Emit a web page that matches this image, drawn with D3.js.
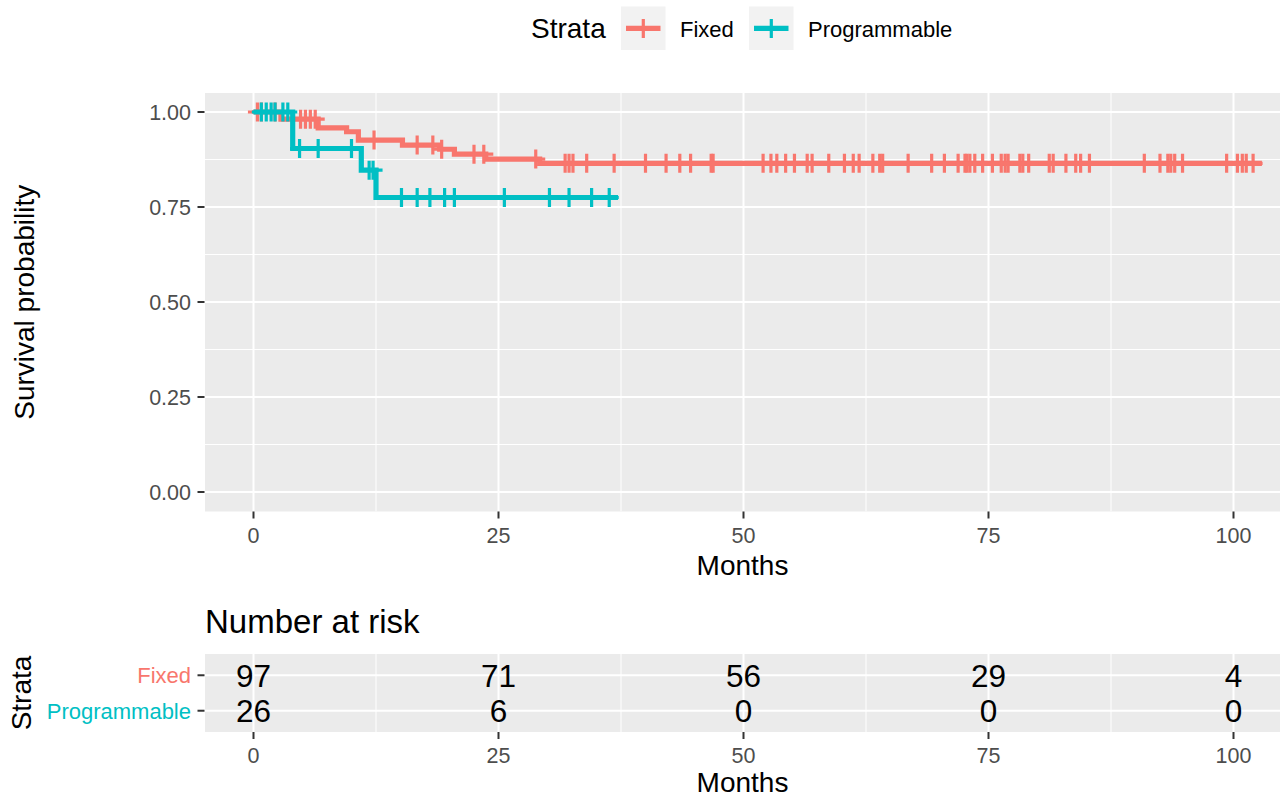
<!DOCTYPE html>
<html>
<head>
<meta charset="utf-8">
<script src="https://cdn.jsdelivr.net/npm/d3@7"></script>
<style>
  body { margin: 0; background: #fff; }
  svg { display: block; font-family: 'Liberation Sans', Arial, sans-serif; }
</style>
</head>
<body>
<div id="chart"></div>
<script>
// Kaplan-Meier steps (months, survival)
const fixedTimes = [0, 2.8, 6.6, 9.5, 10.7, 15.2, 19.0, 20.5, 23.7, 29.2];
const fixedSurv = [1.0, 0.981, 0.958, 0.948, 0.926, 0.913, 0.902, 0.889, 0.876, 0.865];
const fixedEnd = 102.9;
const fixedCensor = [0.4, 0.8, 2.2, 4.8, 5.3, 5.8, 6.3, 12.3, 16.7, 18.3, 19.2, 22.5, 23.5,
  28.8, 31.8, 32.2, 32.6, 34.0, 36.8, 40.0, 42.1, 43.5, 44.6, 46.7, 46.9, 52.0, 52.8, 53.4,
  54.3, 55.2, 56.5, 57.0, 58.7, 60.3, 61.2, 61.8, 63.2, 63.9, 64.2, 66.8, 69.2, 70.5, 71.9,
  72.6, 72.8, 73.1, 73.6, 74.4, 75.4, 76.3, 76.7, 77.0, 78.2, 78.5, 79.1, 81.2, 81.6, 82.9,
  83.9, 84.4, 85.3, 90.9, 92.5, 93.3, 93.6, 94.0, 94.8, 99.3, 100.4, 100.9, 101.3, 102.0];

const progTimes = [0, 4.0, 11.0, 12.5];
const progSurv = [1.0, 0.904, 0.847, 0.775];
const progEnd = 37.2;
const progCensor = [0.8, 1.3, 1.8, 2.2, 3.0, 3.5, 4.7, 6.6, 10.0, 11.8, 12.2, 15.1, 16.7,
  18.0, 19.5, 20.5, 25.6, 30.2, 32.2, 34.5, 36.3];

const strata = ['Fixed', 'Programmable'];
const colors = ['#F8766D', '#00BFC4'];

// number at risk table
const riskTimes = [0, 25, 50, 75, 100];
const riskFixed = [97, 71, 56, 29, 4];
const riskProg = [26, 6, 0, 0, 0];

const xTicks = [0, 25, 50, 75, 100];
const xMinor = [12.5, 37.5, 62.5, 87.5];
const yTicks = [0, 0.25, 0.5, 0.75, 1];
const yMinor = [0.125, 0.375, 0.625, 0.875];

const W = 1280, H = 799;
const panel = { left: 205, right: 1280, top: 93, bottom: 511.5 };
const riskPanel = { left: 205, right: 1280, top: 654, bottom: 732 };
const bg = '#EBEBEB';
const tickColor = '#4D4D4D';
const lineW = 5.2;
const markW = 3.2;

const svg = d3.select('#chart').append('svg').attr('width', W).attr('height', H);

const x = d3.scaleLinear().domain([0, 100]).range([253.5, 1233.5]);
const y = d3.scaleLinear().domain([0, 1]).range([492, 112]);
const yRisk = d3.scaleLinear().domain([0.4, 2.6]).range([riskPanel.bottom, riskPanel.top]);

// main panel
svg.append('defs').append('clipPath').attr('id', 'clip')
  .append('rect')
  .attr('x', panel.left).attr('y', panel.top)
  .attr('width', panel.right - panel.left).attr('height', panel.bottom - panel.top);

svg.append('rect')
  .attr('x', panel.left).attr('y', panel.top)
  .attr('width', panel.right - panel.left).attr('height', panel.bottom - panel.top)
  .attr('fill', bg);

const grid = svg.append('g').attr('clip-path', 'url(#clip)');
grid.selectAll('.hmin').data(yMinor).join('line')
  .attr('x1', panel.left).attr('x2', panel.right)
  .attr('y1', (d) => y(d)).attr('y2', (d) => y(d))
  .attr('stroke', '#fff').attr('stroke-width', 1);
grid.selectAll('.vmin').data(xMinor).join('line')
  .attr('class', 'vmin')
  .attr('y1', panel.top).attr('y2', panel.bottom)
  .attr('x1', (d) => x(d)).attr('x2', (d) => x(d))
  .attr('stroke', '#fff').attr('stroke-width', 1);
grid.selectAll('.hmaj').data(yTicks).join('line')
  .attr('class', 'hmaj')
  .attr('x1', panel.left).attr('x2', panel.right)
  .attr('y1', (d) => y(d)).attr('y2', (d) => y(d))
  .attr('stroke', '#fff').attr('stroke-width', 2);
grid.selectAll('.vmaj').data(xTicks).join('line')
  .attr('class', 'vmaj')
  .attr('y1', panel.top).attr('y2', panel.bottom)
  .attr('x1', (d) => x(d)).attr('x2', (d) => x(d))
  .attr('stroke', '#fff').attr('stroke-width', 2);

// survival curves
const curves = [
  { times: fixedTimes, surv: fixedSurv, end: fixedEnd, censor: fixedCensor },
  { times: progTimes, surv: progSurv, end: progEnd, censor: progCensor }
];

const stepLine = d3.line()
  .x((d) => x(d[0]))
  .y((d) => y(d[1]))
  .curve(d3.curveStepAfter);

const survAt = (c, t) => c.surv[d3.bisectRight(c.times, t) - 1];

const curveG = svg.append('g').attr('clip-path', 'url(#clip)');
curves.forEach((c, i) => {
  const pts = c.times.map((t, j) => [t, c.surv[j]]);
  pts.push([c.end, c.surv[c.surv.length - 1]]);
  curveG.append('path')
    .attr('d', stepLine(pts))
    .attr('fill', 'none')
    .attr('stroke', colors[i])
    .attr('stroke-width', lineW);

  const marks = curveG.append('g').selectAll('g')
    .data(c.censor)
    .join('g')
    .attr('transform', (t) => `translate(${x(t)},${y(survAt(c, t))})`);
  marks.append('line')
    .attr('x1', 0).attr('x2', 0).attr('y1', -9.5).attr('y2', 9.5)
    .attr('stroke', colors[i]).attr('stroke-width', markW);
  marks.append('line')
    .attr('x1', -9.5).attr('x2', 9.5).attr('y1', 0).attr('y2', 0)
    .attr('stroke', colors[i]).attr('stroke-width', markW);
});

// main axes
const yAxisG = svg.append('g');
yAxisG.selectAll('line').data(yTicks).join('line')
  .attr('x1', 197.5).attr('x2', 204.5)
  .attr('y1', (d) => y(d)).attr('y2', (d) => y(d))
  .attr('stroke', '#333').attr('stroke-width', 2);
yAxisG.selectAll('text').data(yTicks).join('text')
  .attr('x', 191).attr('y', (d) => y(d) + 7.5)
  .attr('text-anchor', 'end')
  .attr('font-size', 21.5).attr('fill', tickColor)
  .text((d) => d3.format('.2f')(d));

const xAxisG = svg.append('g');
xAxisG.selectAll('line').data(xTicks).join('line')
  .attr('x1', (d) => x(d)).attr('x2', (d) => x(d))
  .attr('y1', panel.bottom).attr('y2', panel.bottom + 7)
  .attr('stroke', '#333').attr('stroke-width', 2);
xAxisG.selectAll('text').data(xTicks).join('text')
  .attr('x', (d) => x(d)).attr('y', 542.5)
  .attr('text-anchor', 'middle')
  .attr('font-size', 21.5).attr('fill', tickColor)
  .text((d) => d);

svg.append('text')
  .attr('x', (panel.left + panel.right) / 2).attr('y', 575)
  .attr('text-anchor', 'middle').attr('font-size', 28)
  .text('Months');

svg.append('text')
  .attr('transform', `translate(34,${(panel.top + panel.bottom) / 2}) rotate(-90)`)
  .attr('text-anchor', 'middle').attr('font-size', 28)
  .text('Survival probability');

// legend
const legend = svg.append('g');
legend.append('text')
  .attr('x', 531).attr('y', 38)
  .attr('font-size', 28)
  .text('Strata');
const keyX = [621, 749];
const labelX = [680, 808];
strata.forEach((s, i) => {
  legend.append('rect')
    .attr('x', keyX[i]).attr('y', 6.5).attr('width', 44.5).attr('height', 43.5)
    .attr('fill', '#F2F2F2');
  legend.append('line')
    .attr('x1', keyX[i] + 5).attr('x2', keyX[i] + 39.5)
    .attr('y1', 28.3).attr('y2', 28.3)
    .attr('stroke', colors[i]).attr('stroke-width', lineW);
  legend.append('line')
    .attr('x1', keyX[i] + 22.3).attr('x2', keyX[i] + 22.3)
    .attr('y1', 19).attr('y2', 38)
    .attr('stroke', colors[i]).attr('stroke-width', markW);
  legend.append('text')
    .attr('x', labelX[i]).attr('y', 36.5)
    .attr('font-size', 22)
    .text(s);
});

// number at risk table
svg.append('text')
  .attr('x', 205).attr('y', 633)
  .attr('font-size', 33)
  .text('Number at risk');

svg.append('rect')
  .attr('x', riskPanel.left).attr('y', riskPanel.top)
  .attr('width', riskPanel.right - riskPanel.left)
  .attr('height', riskPanel.bottom - riskPanel.top)
  .attr('fill', bg);

const riskRows = [2, 1];
const riskGrid = svg.append('g');
riskGrid.selectAll('.vmin').data(xMinor).join('line')
  .attr('class', 'vmin')
  .attr('y1', riskPanel.top).attr('y2', riskPanel.bottom)
  .attr('x1', (d) => x(d)).attr('x2', (d) => x(d))
  .attr('stroke', '#fff').attr('stroke-width', 1);
riskGrid.selectAll('.hmaj').data(riskRows).join('line')
  .attr('class', 'hmaj')
  .attr('x1', riskPanel.left).attr('x2', riskPanel.right)
  .attr('y1', (d) => yRisk(d)).attr('y2', (d) => yRisk(d))
  .attr('stroke', '#fff').attr('stroke-width', 2);
riskGrid.selectAll('.vmaj').data(xTicks).join('line')
  .attr('class', 'vmaj')
  .attr('y1', riskPanel.top).attr('y2', riskPanel.bottom)
  .attr('x1', (d) => x(d)).attr('x2', (d) => x(d))
  .attr('stroke', '#fff').attr('stroke-width', 2);

const riskSeries = [riskFixed, riskProg];
riskSeries.forEach((vals, i) => {
  svg.append('g').selectAll('text').data(vals).join('text')
    .attr('x', (d, j) => x(riskTimes[j]))
    .attr('y', yRisk(riskRows[i]) + 11.5)
    .attr('text-anchor', 'middle')
    .attr('font-size', 31.5)
    .text((d) => d);

  svg.append('line')
    .attr('x1', 197.5).attr('x2', 204.5)
    .attr('y1', yRisk(riskRows[i])).attr('y2', yRisk(riskRows[i]))
    .attr('stroke', '#333').attr('stroke-width', 2);
  svg.append('text')
    .attr('x', 191).attr('y', yRisk(riskRows[i]) + 7.8)
    .attr('text-anchor', 'end')
    .attr('font-size', 22).attr('fill', colors[i])
    .text(strata[i]);
});

const riskAxis = svg.append('g');
riskAxis.selectAll('line').data(xTicks).join('line')
  .attr('x1', (d) => x(d)).attr('x2', (d) => x(d))
  .attr('y1', riskPanel.bottom).attr('y2', riskPanel.bottom + 7)
  .attr('stroke', '#333').attr('stroke-width', 2);
riskAxis.selectAll('text').data(xTicks).join('text')
  .attr('x', (d) => x(d)).attr('y', 762.5)
  .attr('text-anchor', 'middle')
  .attr('font-size', 21.5).attr('fill', tickColor)
  .text((d) => d);

svg.append('text')
  .attr('x', (riskPanel.left + riskPanel.right) / 2).attr('y', 792)
  .attr('text-anchor', 'middle').attr('font-size', 28)
  .text('Months');

svg.append('text')
  .attr('transform', `translate(31,${(riskPanel.top + riskPanel.bottom) / 2}) rotate(-90)`)
  .attr('text-anchor', 'middle').attr('font-size', 28)
  .text('Strata');
</script>
</body>
</html>
